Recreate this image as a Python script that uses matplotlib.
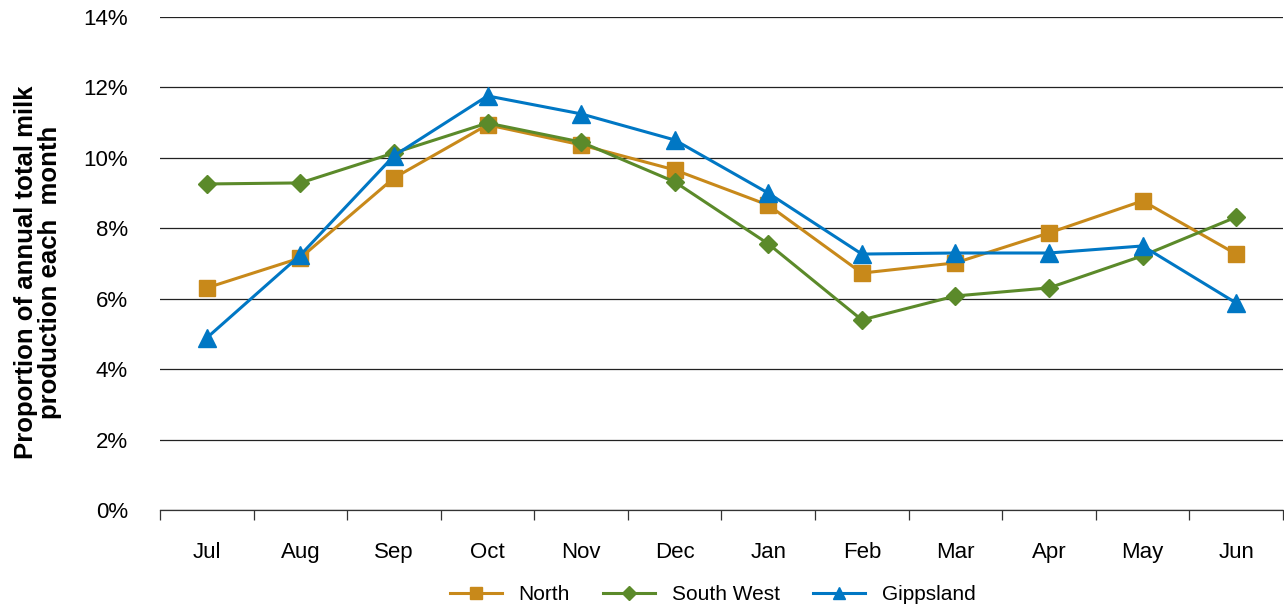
import matplotlib
matplotlib.use("Agg")
import matplotlib.pyplot as plt
from matplotlib.ticker import FixedLocator, PercentFormatter

plt.rcParams['font.family'] = ['Liberation Sans', 'DejaVu Sans']

months = ["Jul", "Aug", "Sep", "Oct", "Nov", "Dec", "Jan", "Feb", "Mar", "Apr", "May", "Jun"]
north = [6.31, 7.16, 9.43, 10.94, 10.37, 9.66, 8.66, 6.73, 7.02, 7.87, 8.78, 7.27]
south_west = [9.26, 9.29, 10.14, 10.99, 10.45, 9.32, 7.56, 5.40, 6.08, 6.31, 7.22, 8.32]
gippsland = [4.89, 7.24, 10.06, 11.76, 11.25, 10.51, 9.00, 7.27, 7.30, 7.30, 7.50, 5.88]

fig = plt.figure(figsize=(12.84, 6.08), dpi=100)
ax = fig.add_axes([0.1246, 0.161, 0.8746, 0.811])

x = list(range(len(months)))
ax.plot(x, north, color="#C8891A", lw=2.2, marker="s", ms=12, label="North", zorder=3)
ax.plot(x, south_west, color="#5B8A2A", lw=2.2, marker="D", ms=9.5, label="South West", zorder=3)
ax.plot(x, gippsland, color="#0077C4", lw=2.2, marker="^", ms=12.5, label="Gippsland", zorder=4)

ax.set_xlim(-0.5, len(months) - 0.5)
ax.set_ylim(0, 14)
ax.set_yticks(range(0, 15, 2))
ax.yaxis.set_major_formatter(PercentFormatter(decimals=0))
ax.grid(axis="y", color="#222222", lw=0.9)
ax.set_axisbelow(True)

ax.set_xticks(x)
ax.set_xticklabels(months)
ax.xaxis.set_minor_locator(FixedLocator([i - 0.5 for i in range(len(months) + 1)]))
ax.tick_params(axis="x", which="major", length=0, pad=23, labelsize=16)
ax.tick_params(axis="x", which="minor", length=7, width=0.9, color="#333333")
ax.tick_params(axis="y", length=0, pad=23, labelsize=16)

for s in ["top", "right", "left"]:
    ax.spines[s].set_visible(False)
ax.spines["bottom"].set_color("#333333")
ax.spines["bottom"].set_linewidth(0.9)

ax.set_ylabel("Proportion of annual total milk\nproduction each  month",
              fontsize=18.5, fontweight="bold", linespacing=1.0)
ax.yaxis.set_label_coords(-0.0875, 0.483)

leg = fig.legend(loc="lower center", bbox_to_anchor=(0.555, -0.024), ncol=3,
                 frameon=False, fontsize=15, handlelength=2.5, handletextpad=0.8,
                 columnspacing=1.6, markerscale=0.7)

fig.savefig("out.png", dpi=100)
